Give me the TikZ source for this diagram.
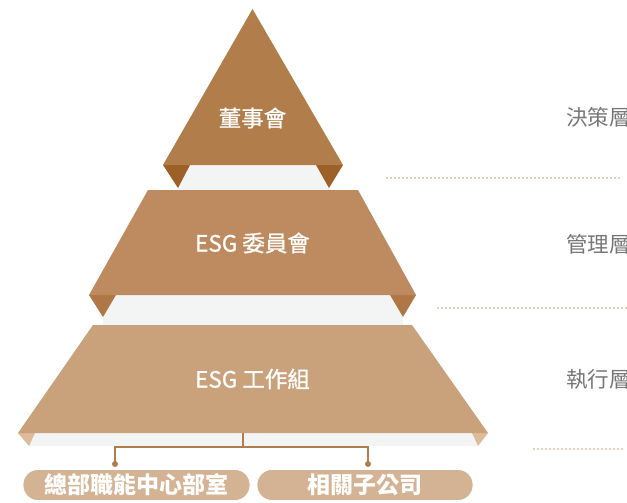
\documentclass[tikz,border=0pt]{standalone}
\usepackage{fontspec}
\setmainfont{Noto Sans CJK TC}
\newfontfamily\cjk{Noto Sans CJK TC}
\newfontfamily\cjkmed[FakeBold=0.9]{Noto Sans CJK TC}
\definecolor{tierA}{HTML}{B07D4B}
\definecolor{tierAd}{HTML}{9C6028}
\definecolor{tierB}{HTML}{BD8B5F}
\definecolor{tierBd}{HTML}{B07746}
\definecolor{tierC}{HTML}{C9A17B}
\definecolor{tierCd}{HTML}{DDBB9B}
\definecolor{band}{HTML}{F3F5F4}
\definecolor{pill}{HTML}{D3B393}
\definecolor{dotc}{HTML}{C8A27E}
\definecolor{lab}{HTML}{777777}
\begin{document}
\begin{tikzpicture}[x=1pt,y=-1pt,
  tiertext/.style={text=white,font=\cjkmed\fontsize{22.5}{26}\selectfont,inner sep=0pt},
  layertext/.style={text=lab,font=\cjk\fontsize{21.5}{24}\selectfont,anchor=west,inner sep=0pt},
  pillbox/.style={fill=pill,draw=white,line width=0.8pt,rounded corners=15pt,text=white,
     font=\cjk\bfseries\fontsize{23}{26}\selectfont,inner sep=0pt},
  dotline/.style={draw=dotc,line width=1.6pt,line cap=round,dash pattern=on 0pt off 4pt},
  link/.style={draw=tierA,line width=1.8pt}]
\useasboundingbox (0,0) rectangle (627,503);
\fill[white] (0,0) rectangle (627,503);
% tier 1
\fill[band] (178,165) rectangle (329,190);
\fill[tierAd] (163,165) -- (190,165) -- (178,188) -- cycle;
\fill[tierAd] (316,165) -- (343,165) -- (329,188) -- cycle;
\fill[tierA] (252.5,9) -- (343,165) -- (163,165) -- cycle;
% tier 2
\fill[band] (103,295) rectangle (403,325);
\fill[tierBd] (89,295) -- (116,295) -- (103,317) -- cycle;
\fill[tierBd] (390,295) -- (416,295) -- (403,317) -- cycle;
\fill[tierB] (148,190) -- (358,190) -- (416,295) -- (89,295) -- cycle;
% tier 3
\fill[band] (29,433) rectangle (478,446);
\fill[tierCd] (18,433) -- (35,433) -- (29,446) -- cycle;
\fill[tierCd] (472,433) -- (488,433) -- (478,446) -- cycle;
\fill[tierC] (93,325) -- (412,325) -- (488,433) -- (18,433) -- cycle;
% texts
\node[tiertext] (t1) at (252.5,118) {董事會};
\node[tiertext] (t2) at (252.5,243) {ESG 委員會};
\node[tiertext] (t3) at (252.5,379) {ESG 工作組};
% layer labels
\node[layertext] (l1) at (566,117) {決策層};
\node[layertext] (l2) at (566,244) {管理層};
\node[layertext] (l3) at (566,379) {執行層};
% dotted separators
\coordinate (d1a) at (387,178); \coordinate (d1b) at (622,178);
\coordinate (d2a) at (438,308); \coordinate (d2b) at (627,308);
\coordinate (d3a) at (534,449); \coordinate (d3b) at (622,449);
\draw[dotline] (d1a) -- (d1b);
\draw[dotline] (d2a) -- (d2b);
\draw[dotline] (d3a) -- (d3b);
% pills
\node[pillbox,minimum width=227pt,minimum height=31pt] (p1) at (136.5,485) {總部職能中心部室};
\node[pillbox,minimum width=216pt,minimum height=31pt] (p2) at (365,485) {相關子公司};
% connector
\coordinate (c0) at (243,433);
\coordinate (cm) at (243,447);
\coordinate (cl) at (115,447);
\coordinate (cr) at (368,447);
\coordinate (dl) at (115,464);
\coordinate (dr) at (368,464);
\draw[link] (c0) -- (cm);
\draw[link] (dl) -- (cl) -- (cr) -- (dr);
\fill[tierA] (dl) circle (3pt);
\fill[tierA] (dr) circle (3pt);
\end{tikzpicture}
\end{document}
